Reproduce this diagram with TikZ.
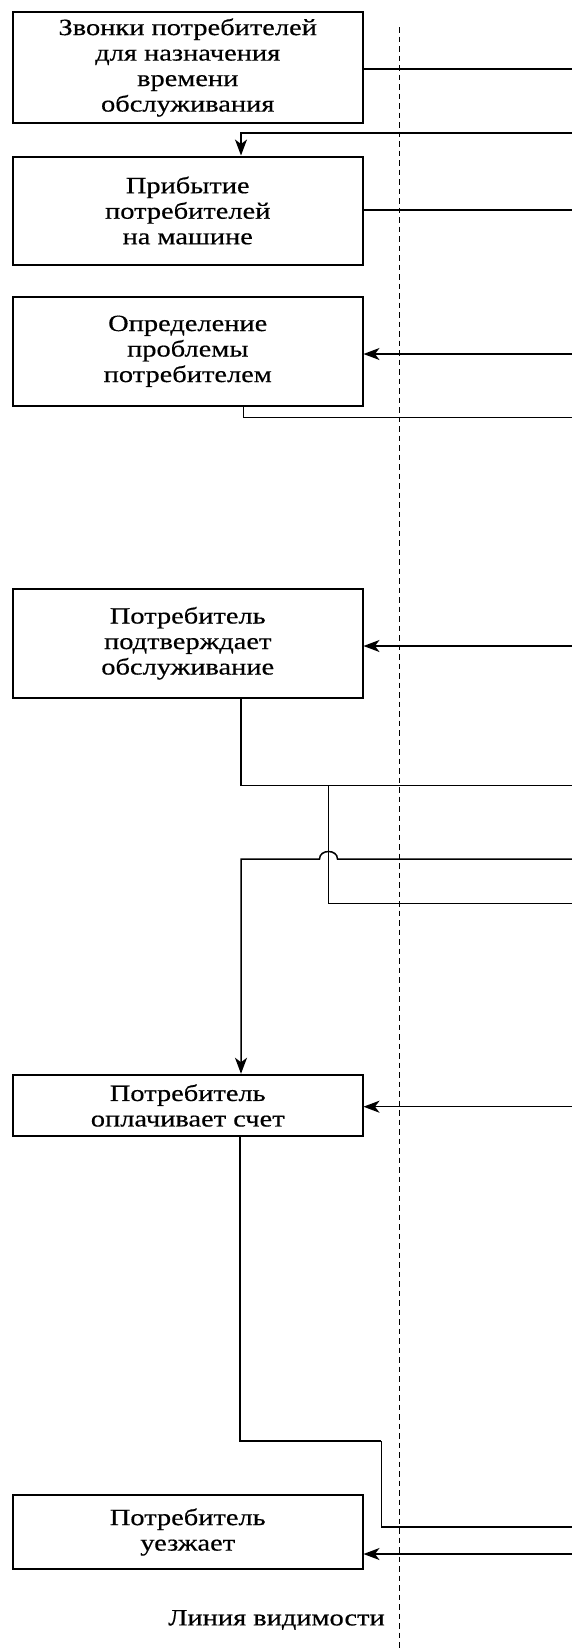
\documentclass[tikz,border=0pt]{standalone}
\usepackage{fontspec}
\setmainfont[FakeStretch=1.22,FakeBold=0.5]{Liberation Serif}
\usetikzlibrary{arrows.meta}
\begin{document}
\begin{tikzpicture}[x=1pt,y=-1pt,
  stagebox/.style={draw, line width=2pt, minimum width=349.5pt, align=center,
    inner sep=0pt, font=\fontsize{23.3}{25.5}\selectfont},
  link/.style={line width=1.5pt},
  thinlink/.style={line width=0.7pt},
  arr/.style={link, -{Stealth[length=16pt,width=12pt,inset=4.5pt]}},
  vis/.style={line width=1.4pt, dash pattern=on 5.5pt off 4pt},
]
\useasboundingbox (0,0) rectangle (572,1649);

% process stages
\node[stagebox, minimum height=110.5pt] (b1) at (187.75,67.5)
  {Звонки потребителей\\для назначения\\времени\\обслуживания};
\node[stagebox, minimum height=108pt] (b2) at (187.75,210.5)
  {Прибытие\\потребителей\\на машине};
\node[stagebox, minimum height=109.3pt] (b3) at (187.75,351.3)
  {Определение\\проблемы\\потребителем};
\node[stagebox, minimum height=109pt] (b4) at (187.75,643.2)
  {Потребитель\\подтверждает\\обслуживание};
\node[stagebox, minimum height=61.5pt] (b5) at (187.75,1105.5)
  {Потребитель\\оплачивает счет};
\node[stagebox, minimum height=74pt] (b6) at (187.75,1532)
  {Потребитель\\уезжает};

% line of visibility
\coordinate (vtop) at (399.5,27);
\coordinate (vbot) at (399.5,1649);
\draw[vis] (vtop) -- (vbot);
\node[anchor=east, inner sep=0pt, font=\fontsize{23.3}{25.5}\selectfont] (vlabel) at (385,1620) {Линия видимости};

% reference columns
\coordinate (xa) at (241,0);
\coordinate (xb) at (328.5,0);
\coordinate (xc) at (381,0);

% outgoing / incoming connectors
\coordinate (o1) at (572,69);
\draw[link] (b1.east |- o1) -- (o1);

\coordinate (i2) at (572,133);
\draw[arr] (i2) -- (i2 -| xa) -- (b2.north -| xa);

\coordinate (o2) at (572,210);
\draw[link] (b2.east |- o2) -- (o2);

\coordinate (i3) at (572,354);
\draw[arr] (i3) -- (b3.east |- i3);

\coordinate (o3) at (572,417.7);
\draw[link] (b3.south -| 243.7,0) -- (243.7,417.7) -- (o3);

\coordinate (i4) at (572,646);
\draw[arr] (i4) -- (b4.east |- i4);

\coordinate (o4) at (572,785.3);
\coordinate (o4b) at (572,903.3);
\draw[link] (b4.south -| xa) -- (o4 -| xa) -- (o4);
\draw[link] (o4 -| xb) -- (o4b -| xb) -- (o4b);

\coordinate (i5a) at (572,859);
\draw[arr] (i5a) -- (337.5,859) .. controls (337.5,849) and (319.5,849) .. (319.5,859)
  -- (i5a -| xa) -- (b5.north -| xa);

\coordinate (i5) at (572,1106.7);
\draw[arr] (i5) -- (b5.east |- i5);

\coordinate (o5) at (572,1527);
\draw[link] (b5.south -| 240,0) -- (240,1441) -- (381,1441);
\draw[thinlink] (381,1441) -- (o5 -| xc);
\draw[link] (o5 -| xc) -- (o5);

\coordinate (i6) at (572,1554);
\draw[arr] (i6) -- (b6.east |- i6);
\end{tikzpicture}
\end{document}
